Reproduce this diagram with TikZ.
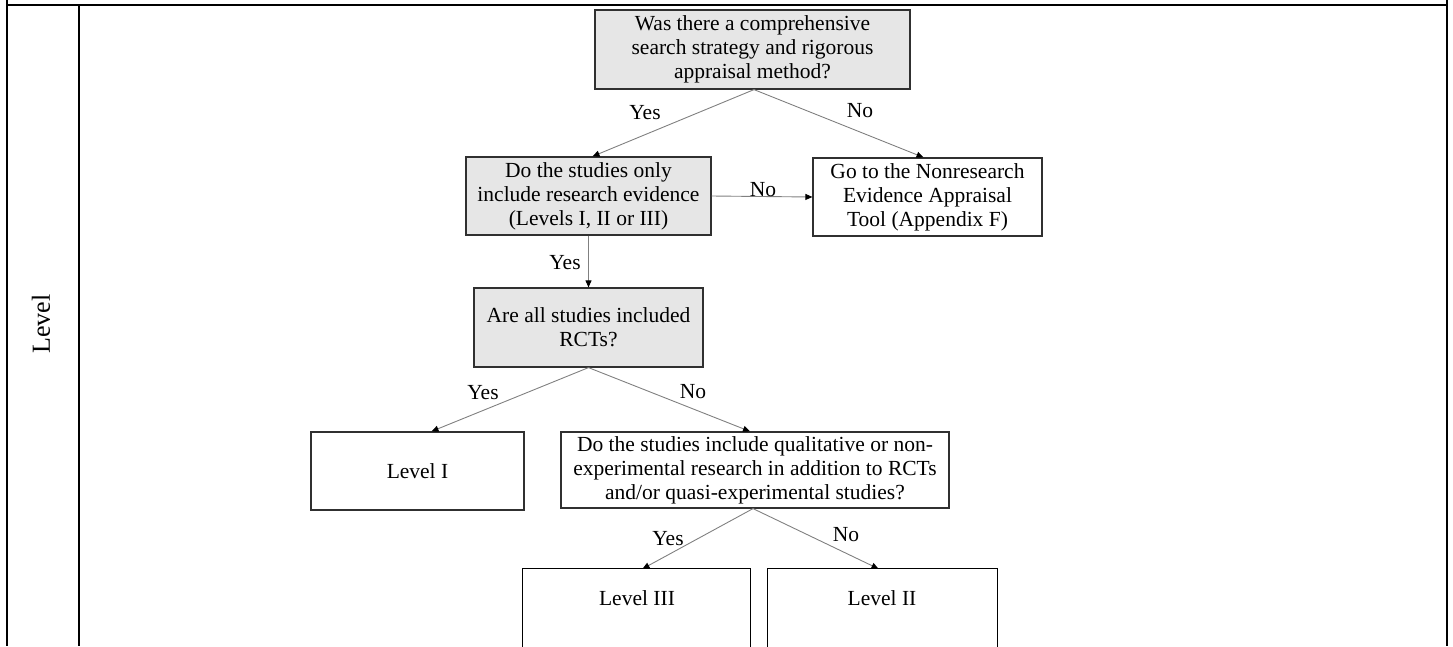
\documentclass[tikz,border=0pt]{standalone}
\usepackage{fontspec}
\setmainfont{Liberation Serif}
\usetikzlibrary{arrows.meta,calc}
\definecolor{boxgray}{HTML}{E6E6E6}
\definecolor{linegray}{HTML}{808080}
\definecolor{edgegray}{HTML}{303030}
\tikzset{
  txt/.style={font=\fontsize{21.5}{24}\selectfont, align=center, inner sep=0pt},
  qbox/.style={txt, draw=edgegray, line width=1.2pt, fill=boxgray},
  abox/.style={txt, draw=edgegray, line width=1.2pt, fill=white},
  openbox/.style={draw=black, line width=1.3pt},
  arr/.style={draw=linegray, line width=0.9pt, -{Triangle[length=7pt,width=6pt,color=black]}},
  lbl/.style={font=\fontsize{21.5}{24}\selectfont, inner sep=0pt},
  frame/.style={line width=2.5pt, black}
}
\begin{document}
\begin{tikzpicture}[x=1pt,y=-1pt]
\useasboundingbox (0,0) rectangle (1453,646);
% frame
\draw[line width=1.5pt] (7,0) -- (7,646);
\draw[frame] (6,5) -- (1448,5);
\draw[frame] (79,5) -- (79,646);
\draw[frame] (1447,0) -- (1447,646);
\node[font=\fontsize{26}{28}\selectfont, rotate=90, inner sep=0pt] (lvl) at (41,324) {Level};

% boxes
\node[qbox, minimum width=315pt, minimum height=79pt] (top) at (752.5,49.5)
  {Was there a comprehensive\\search strategy and rigorous\\appraisal method?};
\node[qbox, minimum width=245pt, minimum height=78pt] (b2) at (588.5,196)
  {Do the studies only\\include research evidence\\(Levels I, II or III)};
\node[abox, minimum width=229pt, minimum height=78pt] (go) at (927.5,197)
  {Go to the Nonresearch\\Evidence Appraisal\\Tool (Appendix F)};
\node[qbox, minimum width=229pt, minimum height=79pt] (b3) at (588.5,327.5)
  {Are all studies included\\RCTs?};
\node[abox, minimum width=213pt, minimum height=78pt] (l1) at (417.5,471)
  {Level I};
\node[abox, minimum width=388pt, minimum height=76pt] (q) at (755,470)
  {Do the studies include qualitative or non-\\experimental research in addition to RCTs\\and/or quasi-experimental studies?};
\node[minimum width=227pt, minimum height=77pt, inner sep=0pt] (l3) at (636.5,607.5) {};
\node[minimum width=229pt, minimum height=77pt, inner sep=0pt] (l2) at (882.5,607.5) {};
\draw[openbox] ($(l3.south west)+(0,5)$) -- (l3.north west) -- (l3.north east) -- ($(l3.south east)+(0,5)$);
\draw[openbox] ($(l2.south west)+(0,5)$) -- (l2.north west) -- (l2.north east) -- ($(l2.south east)+(0,5)$);
\node[lbl] (l3t) at (637,598) {Level III};
\node[lbl] (l2t) at (882,598) {Level II};

% connectors
\draw[arr] ($(top.south)+(1.5,0)$) -- ($(b2.north)+(4,0)$);
\draw[arr] ($(top.south)+(1.5,0)$) -- ($(go.north)+(-4,0)$);
\draw[arr] (b2.east) -- (go.west);
\draw[arr] (b2.south) -- (b3.north);
\draw[arr] (b3.south) -- ($(l1.north)+(14,0)$);
\draw[arr] (b3.south) -- ($(q.north)+(-5,0)$);
\draw[arr] ($(q.south)+(-2,0)$) -- ($(l3.north)+(6,0)$);
\draw[arr] ($(q.south)+(-2,0)$) -- ($(l2.north)+(-4,0)$);

% labels
\node[lbl] (y1) at (645,113) {Yes};
\node[lbl] (n1) at (860,111) {No};
\node[lbl] (n2) at (763,190) {No};
\node[lbl] (y2) at (565,263) {Yes};
\node[lbl] (y3) at (483,393) {Yes};
\node[lbl] (n3) at (693,392) {No};
\node[lbl] (y4) at (668,539) {Yes};
\node[lbl] (n4) at (846,535) {No};
\end{tikzpicture}
\end{document}
